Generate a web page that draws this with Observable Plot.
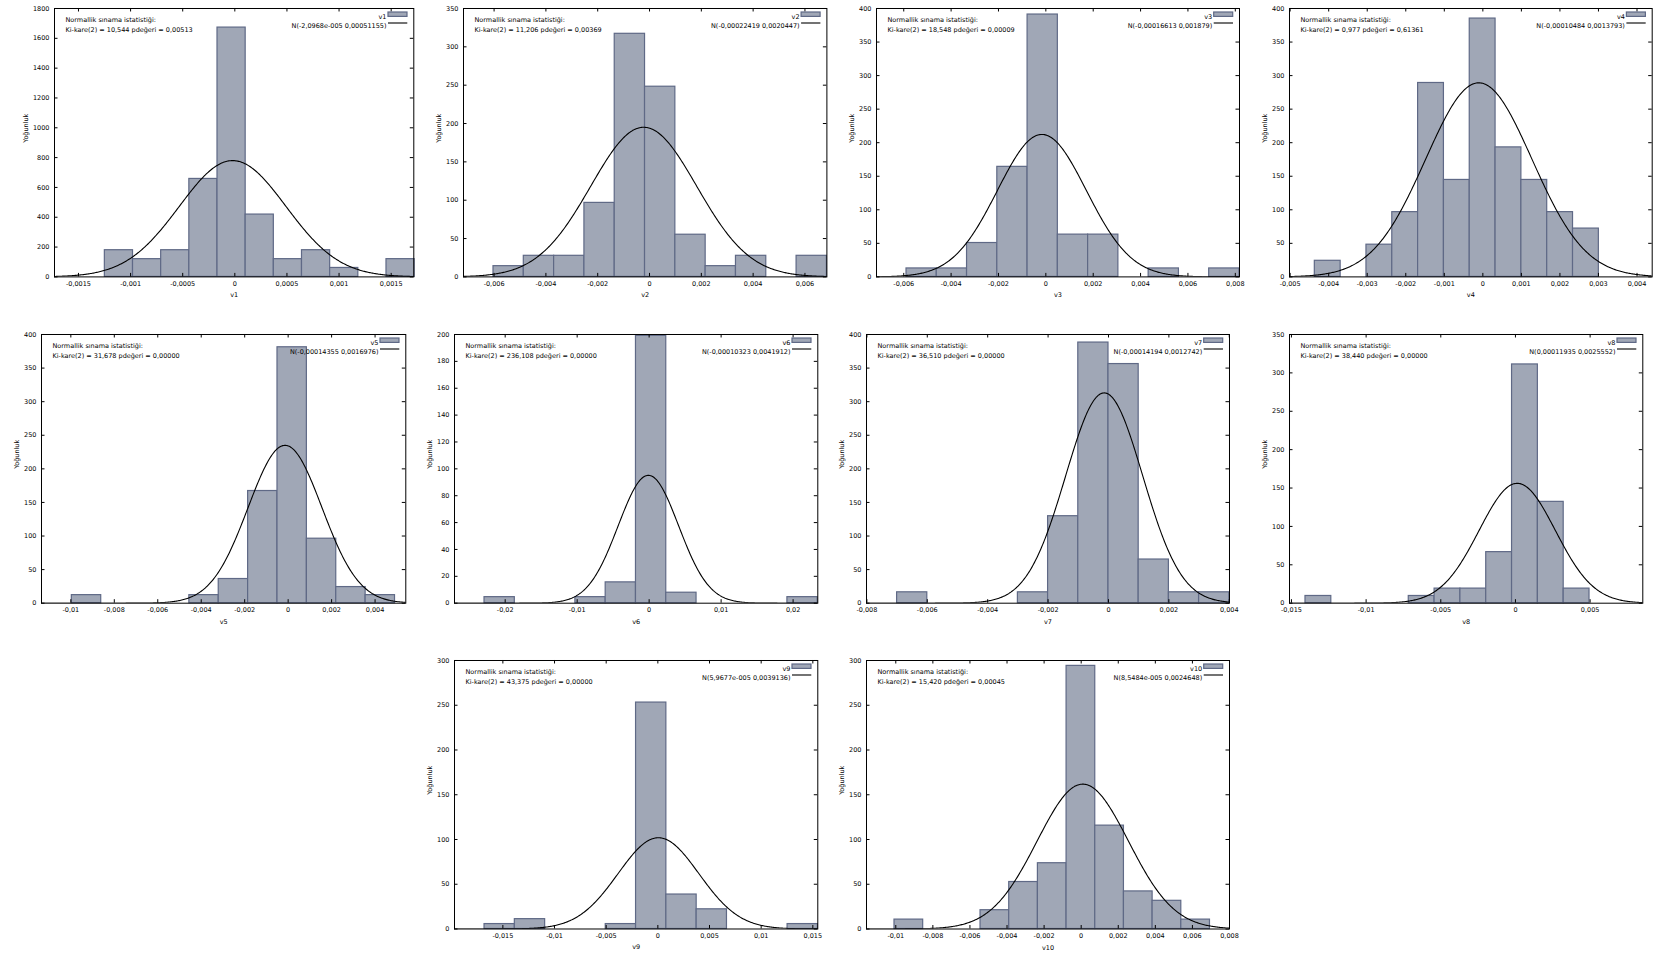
<!DOCTYPE html>
<html><head><meta charset="utf-8">
<script src="https://cdn.jsdelivr.net/npm/d3@7"></script>
<script src="https://cdn.jsdelivr.net/npm/@observablehq/plot@0.6"></script>
<style>
body{margin:0;background:#fff;}
#root{position:relative;width:1655px;height:955px;overflow:hidden;background:#fff;}
#root svg{position:absolute;overflow:visible;}
</style></head><body><div id="root"></div>
<script>
// ---- data ----
const names = ["v1","v2","v3","v4","v5","v6","v7","v8","v9","v10"];
const mus = [-2.0968e-5,-0.00022419,-0.00016613,-0.00010484,-0.00014355,-0.00010323,-0.00014194,0.00011935,5.9677e-5,8.5484e-5];
const sigmas = [0.00051155,0.0020447,0.001879,0.0013793,0.0016976,0.0041912,0.0012742,0.0025552,0.0039136,0.0024648];
const normLabels = ["N(-2,0968e-005 0,00051155)","N(-0,00022419 0,0020447)","N(-0,00016613 0,001879)","N(-0,00010484 0,0013793)","N(-0,00014355 0,0016976)","N(-0,00010323 0,0041912)","N(-0,00014194 0,0012742)","N(0,00011935 0,0025552)","N(5,9677e-005 0,0039136)","N(8,5484e-005 0,0024648)"];
const chiLabels = ["Ki-kare(2) = 10,544 pdeğeri = 0,00513","Ki-kare(2) = 11,206 pdeğeri = 0,00369","Ki-kare(2) = 18,548 pdeğeri = 0,00009","Ki-kare(2) = 0,977 pdeğeri = 0,61361","Ki-kare(2) = 31,678 pdeğeri = 0,00000","Ki-kare(2) = 236,108 pdeğeri = 0,00000","Ki-kare(2) = 36,510 pdeğeri = 0,00000","Ki-kare(2) = 38,440 pdeğeri = 0,00000","Ki-kare(2) = 43,375 pdeğeri = 0,00000","Ki-kare(2) = 15,420 pdeğeri = 0,00045"];
const testTitle = "Normallik sınama istatistiği:";
const yTitle = "Yoğunluk";
const binStarts = [-0.001247,-0.006023,-0.005883,-0.00436,-0.009954,-0.02287,-0.007,-0.01406,-0.016774,-0.01007];
const binWidths = [0.0002702,0.00117,0.001278,0.00067,0.001352,0.004208,0.001,0.001729,0.002933,0.001547];
const heights = [
  [179,119,179,657,1672,418,119,179,60,0,119],
  [14,27.5,27.5,96.5,317,248,55,14,27.5,0,27.5],
  [12.6,12.6,50.5,164,391,63,63,0,12.6,0,12.6],
  [24,0,48,96.5,289,144.5,385,193,144.5,96.5,72],
  [12,0,0,0,12,36,167,381,96,24,12],
  [4.5,0,0,4.5,15.5,199,7.8,0,0,0,4.5],
  [16.2,0,0,0,16.2,129.5,388,356,65,16.2,16.2],
  [9.4,0,0,0,9.4,19,19,66.5,311,132,19],
  [5.5,11,0,0,5.5,253,38.5,22,0,0,5.5],
  [10.5,0,0,21,52.5,73.5,294,115.5,42,31.5,10.5]
];
const xDomains = [[-0.00173,0.001717],[-0.007181,0.006847],[-0.00715,0.008177],[-0.005017,0.004394],[-0.01135,0.005414],[-0.02704,0.02343],[-0.008013,0.004007],[-0.01513,0.008527],[-0.01968,0.01548],[-0.01158,0.008]];
const xTicks = [
  [-0.0015,-0.001,-0.0005,0,0.0005,0.001,0.0015],
  [-0.006,-0.004,-0.002,0,0.002,0.004,0.006],
  [-0.006,-0.004,-0.002,0,0.002,0.004,0.006,0.008],
  [-0.005,-0.004,-0.003,-0.002,-0.001,0,0.001,0.002,0.003,0.004],
  [-0.01,-0.008,-0.006,-0.004,-0.002,0,0.002,0.004],
  [-0.02,-0.01,0,0.01,0.02],
  [-0.008,-0.006,-0.004,-0.002,0,0.002,0.004],
  [-0.015,-0.01,-0.005,0,0.005],
  [-0.015,-0.01,-0.005,0,0.005,0.01,0.015],
  [-0.01,-0.008,-0.006,-0.004,-0.002,0,0.002,0.004,0.006,0.008]
];
const yTicks = [
  [0,200,400,600,800,1000,1200,1400,1600,1800],
  [0,50,100,150,200,250,300,350],
  [0,50,100,150,200,250,300,350,400],
  [0,50,100,150,200,250,300,350,400],
  [0,50,100,150,200,250,300,350,400],
  [0,20,40,60,80,100,120,140,160,180,200],
  [0,50,100,150,200,250,300,350,400],
  [0,50,100,150,200,250,300,350],
  [0,50,100,150,200,250,300],
  [0,50,100,150,200,250,300]
];

// ---- layout & style ----
const frames = [
  [54,8.3,413.3,276.7],[463.3,8.3,826.7,276.7],[876,8.3,1239,276.7],[1289,8.3,1651.7,276.7],
  [40.7,334,405,602.7],[454,334,817.3,602.7],[866,334,1229,602.7],[1289,334,1642.3,602.7],
  [454,659.5,817.3,928],[866,659.5,1229,928]
];
const yTitleOffset = [29,25,25,25,25,25,25,25,25,25];
const BAR_FILL = "#a0a7b6", BAR_STROKE = "#5f6986";
const FONT = '"DejaVu Sans", Verdana, sans-serif';
const fmt = d => d === 0 ? "0" : String(+d.toPrecision(6)).replace(".", ",");

const root = document.getElementById("root");
for (let i = 0; i < names.length; i++) {
  const [fx0, fy0, fx1, fy1] = frames[i];
  const fw = fx1 - fx0, fh = fy1 - fy0;
  const mL = 50, mR = 8, mT = 6, mB = 30;
  const bins = heights[i].map((h, k) => ({x1: binStarts[i] + k * binWidths[i], x2: binStarts[i] + (k + 1) * binWidths[i], h})).filter(d => d.h > 0);
  const [xa, xb] = xDomains[i];
  const n = 400;
  const curve = d3.range(n + 1).map(k => {
    const x = xa + (xb - xa) * k / n;
    const z = (x - mus[i]) / sigmas[i];
    return {x, y: Math.exp(-0.5 * z * z) / (sigmas[i] * Math.sqrt(2 * Math.PI))};
  });
  const tl = 3.5;
  const svg = Plot.plot({
    width: fw + mL + mR, height: fh + mT + mB,
    marginLeft: mL, marginRight: mR, marginTop: mT, marginBottom: mB,
    style: {fontFamily: FONT, fontSize: "6.5px", background: "transparent", maxWidth: "none", color: "#000", overflow: "visible"},
    x: {domain: xDomains[i]},
    y: {domain: [0, yTicks[i][yTicks[i].length - 1]]},
    marks: [
      Plot.rect(bins, {x1: "x1", x2: "x2", y1: 0, y2: "h", fill: BAR_FILL, stroke: BAR_STROKE, strokeWidth: 1.2}),
      Plot.line(curve, {x: "x", y: "y", stroke: "#000", strokeWidth: 1.1, clip: true}),
      Plot.ruleX(xTicks[i], {insetTop: fh - tl, stroke: "#000"}),
      Plot.ruleX(xTicks[i], {insetBottom: fh - tl, stroke: "#000"}),
      Plot.ruleY(yTicks[i], {insetRight: fw - tl, stroke: "#000"}),
      Plot.ruleY(yTicks[i], {insetLeft: fw - tl, stroke: "#000"}),
      Plot.frame({stroke: "#000", strokeWidth: 1}),
      Plot.axisX(xTicks[i], {anchor: "bottom", tickSize: 0, tickPadding: 4, tickFormat: fmt, label: null, fill: "#000"}),
      Plot.axisY(yTicks[i], {anchor: "left", tickSize: 0, tickPadding: 5, tickFormat: d => String(d), label: null, fill: "#000"}),
      Plot.text([names[i]], {text: d => d, frameAnchor: "bottom", dy: 20.5, fill: "#000"}),
      Plot.text([yTitle], {text: d => d, frameAnchor: "left", dx: -yTitleOffset[i], rotate: -90, fill: "#000"}),
      Plot.text([testTitle], {text: d => d, frameAnchor: "top-left", dx: 11, dy: 8.4, textAnchor: "start", fill: "#000"}),
      Plot.text([chiLabels[i]], {text: d => d, frameAnchor: "top-left", dx: 11, dy: 18.4, textAnchor: "start", fill: "#000"}),
      Plot.text([names[i]], {text: d => d, frameAnchor: "top-right", dx: -27.3, dy: 6.2, textAnchor: "end", fill: "#000"}),
      Plot.text([normLabels[i]], {text: d => d, frameAnchor: "top-right", dx: -27.3, dy: 15, textAnchor: "end", fill: "#000"})
    ]
  });
  const s = d3.select(svg);
  s.append("rect").attr("x", mL + fw - 25.3).attr("y", mT + 4).attr("width", 19).attr("height", 4.4)
    .attr("fill", BAR_FILL).attr("stroke", BAR_STROKE).attr("stroke-width", 1.2);
  s.append("line").attr("x1", mL + fw - 25.3).attr("x2", mL + fw - 6).attr("y1", mT + 15).attr("y2", mT + 15)
    .attr("stroke", "#000").attr("stroke-width", 1.1);
  svg.style.left = (fx0 - mL) + "px";
  svg.style.top = (fy0 - mT) + "px";
  root.appendChild(svg);
}
</script></body></html>
